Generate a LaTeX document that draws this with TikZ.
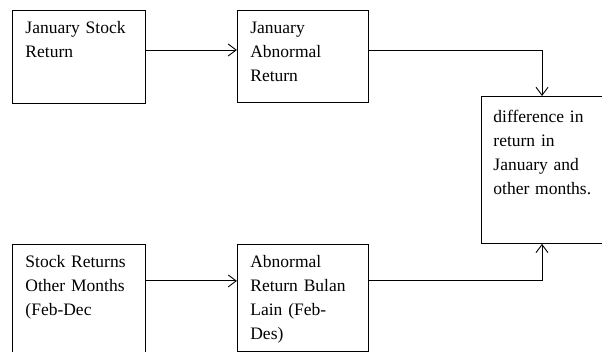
\documentclass[tikz,border=0pt]{standalone}
\usepackage{fontspec}
\setmainfont{Liberation Serif}
\usetikzlibrary{arrows.meta,positioning}

\begin{document}
\begin{tikzpicture}[x=1pt,y=1pt,
    box/.style={draw,line width=0.9pt,anchor=north west,align=left,
        inner xsep=13pt,inner ysep=0pt,text height=23pt,
        font=\fontsize{17.5}{24}\selectfont},
    arr/.style={line width=0.9pt,-{Straight Barb[length=8pt,width=12pt]}}]
    \useasboundingbox (0,0) rectangle (602,-352);
    \node(jan)[box,text width=107pt,text depth=70pt] at (12,-10){January Stock\\Return};
    \node(janab)[box,text width=105pt,text depth=69pt,right=91pt of jan.north east,anchor=north west]{January\\Abnormal\\Return};
    \node(oth)[box,text width=107pt,text depth=92pt,below=140pt of jan.south west,anchor=north west]{Stock Returns\\Other Months\\(Feb-Dec};
    \node(othab)[box,text width=105pt,text depth=84pt,right=91pt of oth.north east,anchor=north west]{Abnormal\\Return Bulan\\Lain (Feb-\\Des)};
    \node(diff)[box,inner xsep=12pt,text height=26pt,text width=107pt,text depth=121pt] at (481,-96){difference in\\return in\\January and\\other months.};
    \draw[arr]([yshift=-40pt]jan.north east) -- ([yshift=-40pt]janab.north west);
    \draw[arr]([yshift=-37pt]oth.north east) -- ([yshift=-37pt]othab.north west);
    \draw[arr]([yshift=-40pt]janab.north east) -| ([xshift=61pt]diff.north west);
    \draw[arr]([yshift=-37pt]othab.north east) -| ([xshift=61pt]diff.south west);
\end{tikzpicture}
\end{document}
